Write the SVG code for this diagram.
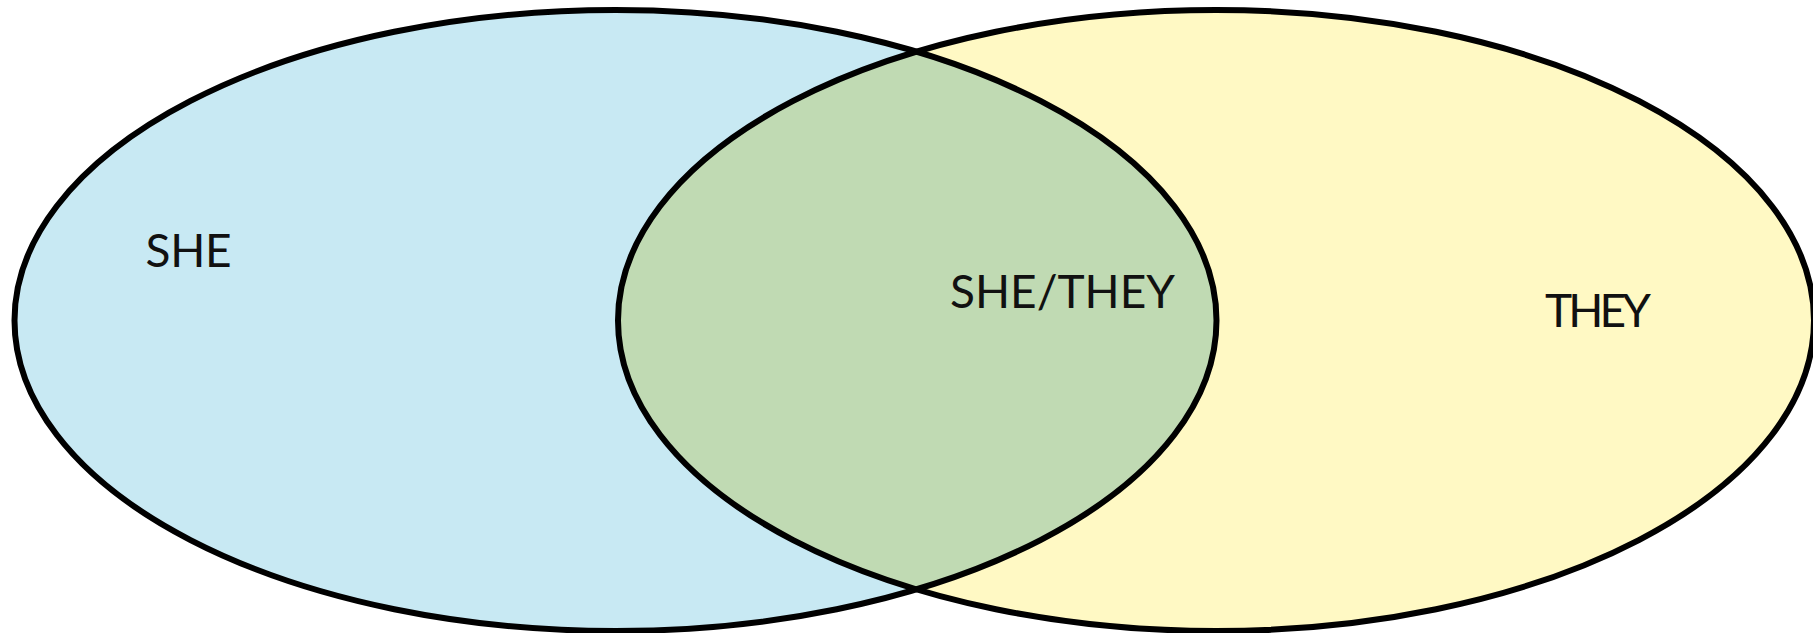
<svg xmlns="http://www.w3.org/2000/svg" width="1813" height="633" viewBox="0 0 1813 633">
  <defs>
    <clipPath id="clipLeft">
      <ellipse cx="615.5" cy="320.5" rx="601" ry="310.5"/>
    </clipPath>
  </defs>
  <style>
    .lbl { font-family: Lato, "Open Sans", "Liberation Sans", sans-serif; font-weight: 400; font-size: 46px; fill: #111111; }
    .outline { fill: none; stroke: #000000; stroke-width: 6; }
  </style>
  <rect x="0" y="0" width="1813" height="633" fill="#ffffff"/>
  <g id="she-set">
    <ellipse cx="615.5" cy="320.5" rx="601" ry="310.5" fill="#C8E9F3"/>
  </g>
  <g id="they-set">
    <ellipse cx="1216" cy="320.5" rx="598" ry="310.5" fill="#FFF9C4"/>
  </g>
  <g id="overlap">
    <ellipse cx="1216" cy="320.5" rx="598" ry="310.5" fill="#C0DAB3" clip-path="url(#clipLeft)"/>
  </g>
  <g id="outlines">
    <ellipse class="outline" cx="615.5" cy="320.5" rx="601" ry="310.5"/>
    <ellipse class="outline" cx="1216" cy="320.5" rx="598" ry="310.5"/>
  </g>
  <g id="labels">
    <text class="lbl" x="145.5" y="267" textLength="86" lengthAdjust="spacing">SHE</text>
    <text class="lbl" x="950" y="307.5" textLength="225" lengthAdjust="spacing">SHE/THEY</text>
    <text class="lbl" x="1545" y="327" textLength="106" lengthAdjust="spacing">THEY</text>
  </g>
</svg>
